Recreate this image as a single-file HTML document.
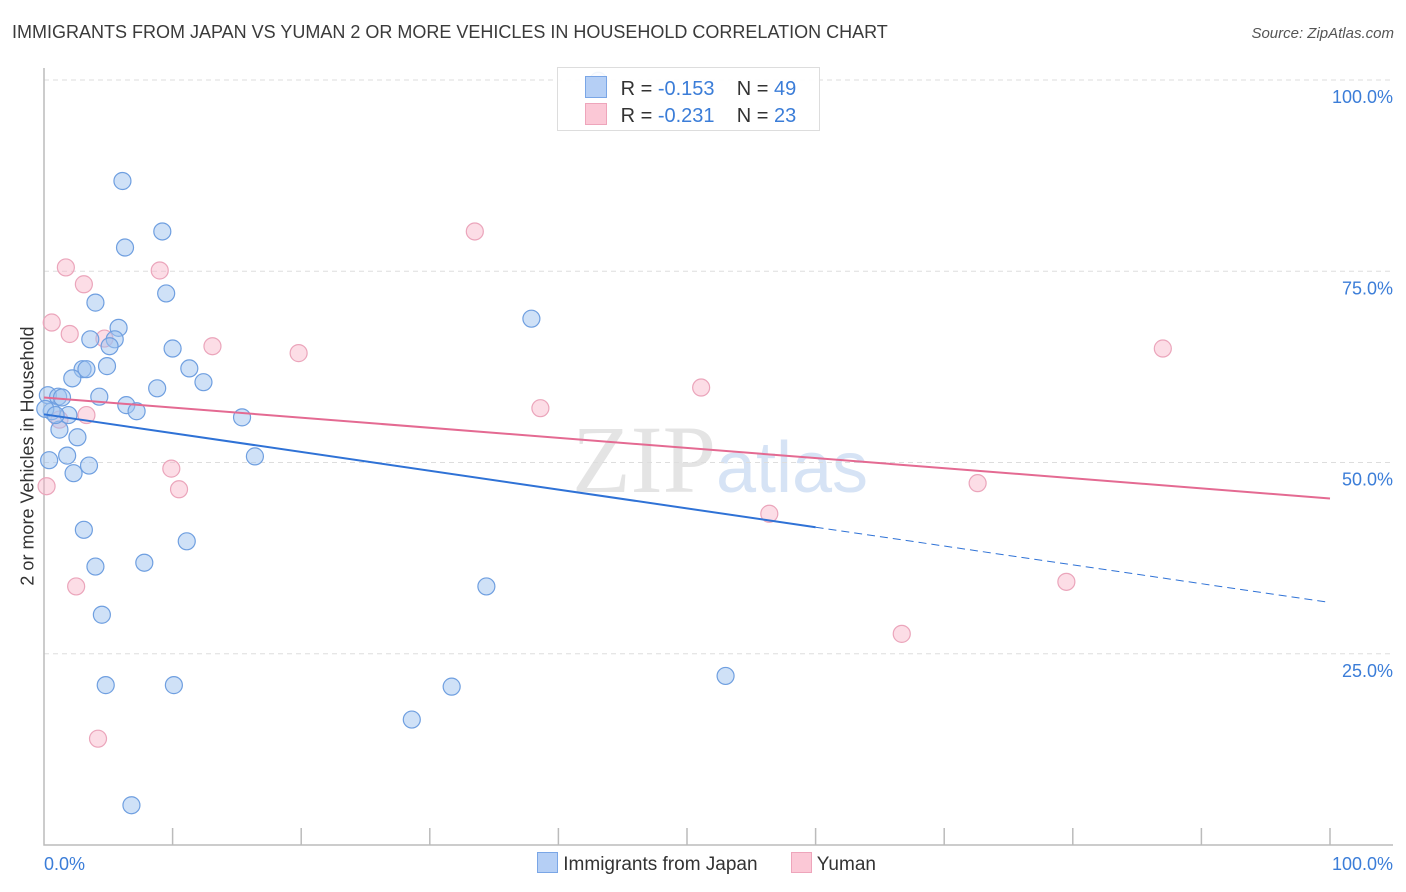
<!DOCTYPE html>
<html><head><meta charset="utf-8">
<style>
body{margin:0;background:#fff;font-family:"Liberation Sans",sans-serif;}
#wrap{position:relative;width:1406px;height:892px;overflow:hidden;}
.t{position:absolute;white-space:nowrap;}
</style></head>
<body>
<div id="wrap">
<div class="t" style="left:12px;top:22px;font-size:18px;color:#3a3a3a;">IMMIGRANTS FROM JAPAN VS YUMAN 2 OR MORE VEHICLES IN HOUSEHOLD CORRELATION CHART</div>
<div class="t" style="right:12px;top:25px;font-size:15px;color:#555;font-style:italic;">Source: ZipAtlas.com</div>
<div class="t" style="left:28px;top:456px;font-size:18px;color:#333;transform:translate(-50%,-50%) rotate(-90deg);">2 or more Vehicles in Household</div>
<svg id="plot" width="1406" height="892" style="position:absolute;left:0;top:0">
<text x="720" y="492" text-anchor="middle" font-size="96" font-family="Liberation Serif,serif" fill="#e4e4e4">ZIP<tspan fill="#d6e3f5" font-family="Liberation Sans,sans-serif" font-size="72">atlas</tspan></text>
</svg>
<div style="position:absolute;left:557px;top:67px;width:261px;height:62px;border:1px solid #ddd;background:rgba(255,255,255,0.9);font-size:20px;color:#333;">
 <div style="position:absolute;left:27px;top:8px;">
  <span style="display:inline-block;width:20px;height:20px;background:#b5cff5;border:1px solid #7aa6e6;vertical-align:-3px;"></span>
  <span style="margin-left:8px">R = <span style="color:#3b7dd8">-0.153</span>&nbsp;&nbsp;&nbsp; N = <span style="color:#3b7dd8">49</span></span></div>
 <div style="position:absolute;left:27px;top:35px;">
  <span style="display:inline-block;width:20px;height:20px;background:#fbc8d6;border:1px solid #eea5bb;vertical-align:-3px;"></span>
  <span style="margin-left:8px">R = <span style="color:#3b7dd8">-0.231</span>&nbsp;&nbsp;&nbsp; N = <span style="color:#3b7dd8">23</span></span></div>
</div>
<div style="position:absolute;left:537px;top:852px;font-size:19px;color:#333;">
 <span><span style="display:inline-block;width:19px;height:19px;background:#b5cff5;border:1px solid #7aa6e6;vertical-align:-3px;"></span> Immigrants from Japan</span>
 <span style="margin-left:28px"><span style="display:inline-block;width:19px;height:19px;background:#fbc8d6;border:1px solid #eea5bb;vertical-align:-3px;"></span> Yuman</span>
</div>
</div>
<script>
const japanX=[6.1,6.3,9.2,9.5,4.0,5.8,3.6,5.5,5.1,10.0,4.9,3.0,3.3,11.3,2.2,12.4,8.8,4.3,0.3,1.1,1.4,6.4,7.2,0.6,1.9,15.4,1.2,2.6,1.8,16.4,0.4,3.5,2.3,37.9,3.1,11.1,7.8,4.0,4.5,34.4,4.8,10.1,31.7,53.0,28.6,6.8,43.1,0.1,0.9];
const japanY=[86.8,78.1,80.2,72.1,70.9,67.6,66.1,66.1,65.2,64.9,62.6,62.2,62.2,62.3,61.0,60.5,59.7,58.6,58.8,58.6,58.5,57.5,56.7,56.7,56.2,55.9,54.3,53.3,50.9,50.8,50.3,49.6,48.6,68.8,41.2,39.7,36.9,36.4,30.1,33.8,20.9,20.9,20.7,22.1,16.4,5.2,99.9,57.0,56.2];
const yumanX=[1.7,3.1,9.0,33.5,0.6,2.0,4.7,13.1,19.8,51.1,38.6,3.3,1.2,9.9,10.5,56.4,72.6,87.0,79.5,66.7,2.5,4.2,0.2];
const yumanY=[75.5,73.3,75.1,80.2,68.3,66.8,66.2,65.2,64.3,59.8,57.1,56.2,55.6,49.2,46.5,43.3,47.3,64.9,34.4,27.6,33.8,13.9,46.9];
const yTicks=[25,50,75,100];
const yTickLabels=["25.0%","50.0%","75.0%","100.0%"];
const xTicks=[0,10,20,30,40,50,60,70,80,90,100];
const japanTrend=[56.3,31.7]; // value at x=0, x=100
const yumanTrend=[58.5,45.3];
const japanSolidEnd=60;

const X=v=>44+v*12.86, Y=v=>845-v*7.65;
const svg=document.getElementById('plot'), NS='http://www.w3.org/2000/svg';
function mk(tag,attrs){const e=document.createElementNS(NS,tag);for(const k in attrs)e.setAttribute(k,attrs[k]);svg.appendChild(e);return e;}
yTicks.forEach((t,i)=>{
 const g=mk('line',{x1:44,x2:1393,y1:Y(t),y2:Y(t),stroke:'#ddd','stroke-dasharray':'5,4'});
 
 
 const tx=mk('text',{x:1393,y:Y(t)+23,'text-anchor':'end','font-size':18,fill:'#3b7dd8','font-family':'Liberation Sans,sans-serif'});
 tx.textContent=yTickLabels[i];
 
 
});
const ax=mk('path',{d:'M44 68V845H1393',fill:'none',stroke:'#bbb','stroke-width':1.5});


xTicks.slice(1).forEach(t=>{
 const l=mk('line',{x1:X(t),x2:X(t),y1:828,y2:845,stroke:'#bbb','stroke-width':1.5});
 
 
});
[['0.0%',44,'start'],['100.0%',1393,'end']].forEach(a=>{
 const tx=mk('text',{x:a[1],y:870,'text-anchor':a[2],'font-size':18,fill:'#3b7dd8','font-family':'Liberation Sans,sans-serif'});
 tx.textContent=a[0];
 
 
});
function pts(xs,ys,fill,stroke,name){xs.forEach((x,i)=>{
 const c=mk('circle',{cx:X(x),cy:Y(ys[i]),r:8.5,fill:fill,stroke:stroke,'stroke-width':1.2});
 
 
});}
pts(yumanX,yumanY,'rgba(248,180,200,0.45)','#eba5bb','yuman-point');
pts(japanX,japanY,'rgba(160,195,240,0.5)','#6f9fe0','japan-point');
const ty=v=>japanTrend[0]+(japanTrend[1]-japanTrend[0])*v/100;
let l1=mk('line',{x1:X(0),y1:Y(ty(0)),x2:X(japanSolidEnd),y2:Y(ty(japanSolidEnd)),stroke:'#2f72d6','stroke-width':2});


let l2=mk('line',{x1:X(japanSolidEnd),y1:Y(ty(japanSolidEnd)),x2:X(100),y2:Y(ty(100)),stroke:'#2f72d6','stroke-width':1,'stroke-dasharray':'8,5'});


let l3=mk('line',{x1:X(0),y1:Y(yumanTrend[0]),x2:X(100),y2:Y(yumanTrend[1]),stroke:'#e46a92','stroke-width':2});


</script>
</body></html>
